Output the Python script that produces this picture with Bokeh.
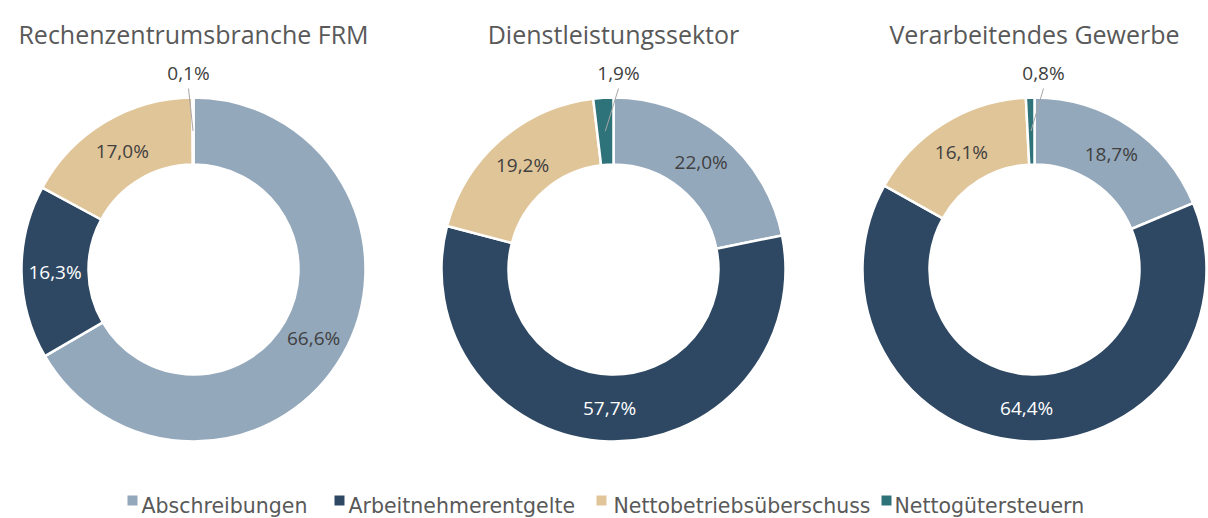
import math
from bokeh.plotting import figure
from bokeh.models import Range1d, ColumnDataSource
from bokeh.core.properties import value
from bokeh.embed import file_html
from bokeh.resources import INLINE

# ---------------- data ----------------
categories = ["Abschreibungen", "Arbeitnehmerentgelte", "Nettobetriebsüberschuss", "Nettogütersteuern"]
titles = ["Rechenzentrumsbranche FRM", "Dienstleistungssektor", "Verarbeitendes Gewerbe"]
rechenzentrum = [66.6, 16.3, 17.0, 0.1]
dienstleistung = [22.0, 57.7, 19.2, 1.9]
verarbeitend = [18.7, 64.4, 16.1, 0.8]
series = [rechenzentrum, dienstleistung, verarbeitend]

# ---------------- style ----------------
colors = ["#94A8BC", "#2E4863", "#E0C598", "#2E7379"]
label_colors = ["#404040", "#FFFFFF", "#404040", "#FFFFFF"]
centers_x = [193, 613, 1034]
center_y = -269
r_outer = 172
r_inner = 105
r_mid = (r_outer + r_inner) / 2
outside_dx = [-5, 5, 9]
outside_label_dy = 197
outside_line_dy = 181
small_threshold = 3.0
legend_sq_x = [132, 339, 601, 886]
legend_txt_x = [141, 348, 613, 894]
legend_y = -505

W, H = 1208, 518
p = figure(width=W, height=H, output_backend="svg", toolbar_location=None,
           x_range=Range1d(0, W), y_range=Range1d(-H, 0),
           x_axis_type=None, y_axis_type=None, min_border=0)
p.min_border_left = p.min_border_right = p.min_border_top = p.min_border_bottom = 0
p.outline_line_color = None
p.grid.visible = False
p.background_fill_color = "white"
p.border_fill_color = "white"

for ci, vals in enumerate(series):
    cx = centers_x[ci]
    total = sum(vals)
    starts, ends, mids = [], [], []
    cum = 0.0
    for v in vals:
        f = v / total
        a0 = math.pi / 2 - 2 * math.pi * cum
        a1 = math.pi / 2 - 2 * math.pi * (cum + f)
        starts.append(a0)
        ends.append(a1)
        mids.append((a0 + a1) / 2)
        cum += f
    src = ColumnDataSource(dict(x=[cx] * len(vals), y=[center_y] * len(vals),
                                start=starts, end=ends, color=colors))
    p.annular_wedge(x="x", y="y", inner_radius=r_inner, outer_radius=r_outer,
                    start_angle="start", end_angle="end", direction="clock",
                    fill_color="color", line_color="white", line_width=2.5, source=src)

    lx, ly, lt, lc = [], [], [], []
    for i, v in enumerate(vals):
        txt = f"{v:.1f}".replace(".", ",") + "%"
        mx = cx + r_mid * math.cos(mids[i])
        my = center_y + r_mid * math.sin(mids[i])
        if v < small_threshold:
            tx = cx + outside_dx[ci]
            p.line([tx, mx], [center_y + outside_line_dy, my], line_color="#A6A6A6", line_width=1)
            lx.append(tx); ly.append(center_y + outside_label_dy); lt.append(txt); lc.append("#404040")
        else:
            lx.append(mx); ly.append(my); lt.append(txt); lc.append(label_colors[i])
    p.text(x=lx, y=ly, text=lt, text_color=lc, text_font=value("Open Sans"),
           text_font_size="19px", text_align="center", text_baseline="middle")

    p.text(x=[cx], y=[-33], text=[titles[ci]], text_color="#595959",
           text_font=value("Open Sans"), text_font_size="25px",
           text_align="center", text_baseline="alphabetic")

# legend
p.rect(x=legend_sq_x, y=[legend_y + 5] * 4, width=10, height=10, fill_color=colors, line_color=None)
p.text(x=legend_txt_x, y=[legend_y] * 4, text=categories, text_color="#595959",
       text_font=value("DejaVu Sans"), text_font_size="20.5px",
       text_align="left", text_baseline="alphabetic")

open("out.html", "w").write(file_html(p, INLINE))
